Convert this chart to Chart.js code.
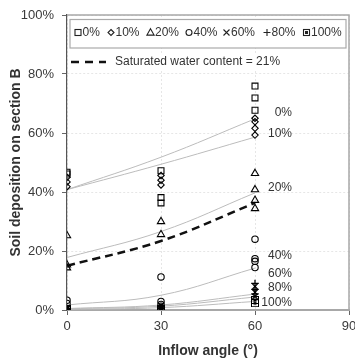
<!DOCTYPE html>
<html><head><meta charset="utf-8">
<script src="https://cdn.jsdelivr.net/npm/chart.js@4.4.0/dist/chart.umd.min.js"></script>
<style>html,body{margin:0;padding:0;background:#fff;} #wrap{width:355px;height:362px;}</style>
</head><body><div id="wrap"><canvas id="c" width="355" height="362"></canvas></div>
<script>
// Categories (inflow angle, degrees)
const angles = [0, 30, 60];
const xTicks = [0, 30, 60, 90];
const yTicks = [0, 20, 40, 60, 80, 100];
const seriesNames = ['0%', '10%', '20%', '40%', '60%', '80%', '100%'];

// Measured points per water content: values at angle 0, 30, 60 (%)
const wc0   = [[46.7, 46.1], [47.2, 38.1, 36.3], [75.9, 71.9, 67.7]];
const wc10  = [[45.0, 43.4, 41.8], [45.6, 44.0, 42.4], [65.0, 63.8, 61.6, 59.3]];
const wc20  = [[25.2, 15.3, 14.3], [30.0, 25.6], [46.3, 40.8, 37.2, 34.4]];
const wc40  = [[3.3, 2.2], [11.2, 2.9, 1.9], [24.0, 17.4, 16.5, 14.4]];
const wc60  = [[0.6, 0.3], [1.6, 0.8], [8.0, 6.0, 4.6]];
const wc80  = [[0.5, 0.2], [1.3, 0.6], [9.0, 7.0, 5.5]];
const wc100 = [[0.3, 0.1], [0.5, 0.3], [3.4, 2.3]];

// Trend curves: values at angle 0, 30, 60 (%)
const trend0   = [40.8, 51.8, 64.8];
const trend10  = [40.8, 49.4, 58.6];
const trend20  = [17.8, 26.6, 39.7];
const trend40  = [1.7, 5.0, 14.2];
const trend60  = [0.5, 1.7, 5.4];
const trend80  = [0.4, 1.3, 4.4];
const trend100 = [0.2, 0.8, 2.9];
const saturated = [15.0, 23.4, 36.3];

// Curve end labels (value positions, %)
const curveLabelY = [66.8, 59.7, 41.4, 18.4, 12.4, 7.4, 2.5];
const curveLabelX = 71.8;

const allMeas = [wc0, wc10, wc20, wc40, wc60, wc80, wc100];
const allTrend = [trend0, trend10, trend20, trend40, trend60, trend80, trend100];

// custom marker for 100%: square with dot
function makeDotSquare() {
  const c = document.createElement('canvas');
  c.width = 8; c.height = 8;
  const g = c.getContext('2d');
  g.strokeStyle = '#000'; g.lineWidth = 1;
  g.strokeRect(0.5, 0.5, 7, 7);
  g.fillStyle = '#000';
  g.fillRect(2.5, 2.5, 3, 3);
  return c;
}
const dotSquare = makeDotSquare();

const styles = [
  {pointStyle: 'rect', radius: 4.2, bw: 1.1},
  {pointStyle: 'rectRot', radius: 3.2, bw: 1.1},
  {pointStyle: 'triangle', radius: 4.2, bw: 1.1},
  {pointStyle: 'circle', radius: 3.2, bw: 1.1},
  {pointStyle: 'crossRot', radius: 3.6, bw: 1.3},
  {pointStyle: 'cross', radius: 3.8, bw: 1.3},
  {pointStyle: dotSquare, radius: 4, bw: 1}
];

function toPoints(meas) {
  const pts = [];
  meas.forEach((vals, i) => vals.forEach(v => pts.push({x: angles[i], y: v})));
  return pts;
}
function toCurve(vals) { return vals.map((v, i) => ({x: angles[i], y: v})); }

const datasets = [];
allTrend.forEach((t, i) => datasets.push({
  label: 'trend ' + seriesNames[i], data: toCurve(t), showLine: true,
  borderColor: '#bcbcbc', borderWidth: 1, pointRadius: 0, pointHoverRadius: 0,
  tension: 0.4, order: 3
}));
datasets.push({
  label: 'Saturated water content = 21%', data: toCurve(saturated), showLine: true,
  borderColor: '#111', borderWidth: 2.5, borderDash: [8, 5], pointRadius: 0,
  tension: 0.4, order: 2
});
allMeas.forEach((m, i) => datasets.push({
  label: seriesNames[i], data: toPoints(m), showLine: false,
  pointStyle: styles[i].pointStyle, pointRadius: styles[i].radius,
  pointBorderColor: '#000', pointBackgroundColor: 'rgba(255,255,255,0)',
  pointBorderWidth: styles[i].bw, order: 1
}));

function drawMarker(ctx, i, x, y) {
  ctx.save();
  ctx.strokeStyle = '#222'; ctx.fillStyle = '#222'; ctx.lineWidth = 1.1;
  ctx.beginPath();
  if (i === 0) { ctx.strokeRect(x - 3, y - 3, 6, 6); }
  else if (i === 1) { ctx.moveTo(x, y - 3); ctx.lineTo(x + 3, y); ctx.lineTo(x, y + 3); ctx.lineTo(x - 3, y); ctx.closePath(); ctx.stroke(); }
  else if (i === 2) { ctx.moveTo(x, y - 3.8); ctx.lineTo(x + 3.6, y + 2.6); ctx.lineTo(x - 3.6, y + 2.6); ctx.closePath(); ctx.stroke(); }
  else if (i === 3) { ctx.arc(x, y, 3, 0, Math.PI * 2); ctx.stroke(); }
  else if (i === 4) { ctx.moveTo(x - 3, y - 3); ctx.lineTo(x + 3, y + 3); ctx.moveTo(x + 3, y - 3); ctx.lineTo(x - 3, y + 3); ctx.stroke(); }
  else if (i === 5) { ctx.moveTo(x - 3.5, y); ctx.lineTo(x + 3.5, y); ctx.moveTo(x, y - 3.5); ctx.lineTo(x, y + 3.5); ctx.stroke(); }
  else { ctx.strokeRect(x - 3, y - 3, 6, 6); ctx.fillRect(x - 1.5, y - 1.5, 3, 3); }
  ctx.restore();
}

const legendMarkerX = [78, 111, 150.5, 189, 226.5, 267, 306.5];

const extras = {
  id: 'extras',
  beforeDatasetsDraw(chart) {
    const {ctx, chartArea: a} = chart;
    ctx.save();
    ctx.strokeStyle = '#a8a8a8'; ctx.lineWidth = 1.5;
    ctx.beginPath();
    ctx.moveTo(a.left, a.top); ctx.lineTo(a.right, a.top); ctx.lineTo(a.right, a.bottom);
    ctx.stroke();
    ctx.restore();
  },
  afterDraw(chart) {
    const {ctx} = chart;
    const xs = chart.scales.x, ys = chart.scales.y;
    ctx.save();
    // legend box
    ctx.fillStyle = '#fff';
    ctx.fillRect(70, 19.5, 276, 28.5);
    ctx.strokeStyle = '#aaa'; ctx.lineWidth = 1.2;
    ctx.strokeRect(70, 19.5, 276, 28.5);
    ctx.font = '12px "Liberation Sans", Arial, sans-serif';
    ctx.fillStyle = '#333'; ctx.textBaseline = 'middle'; ctx.textAlign = 'left';
    seriesNames.forEach((n, i) => {
      drawMarker(ctx, i, legendMarkerX[i], 32.5);
      ctx.fillText(n, legendMarkerX[i] + 4.5, 33);
    });
    // saturated legend
    ctx.fillStyle = '#fff';
    ctx.fillRect(68, 53, 220, 18);
    ctx.strokeStyle = '#111'; ctx.lineWidth = 2.5; ctx.setLineDash([8, 6]);
    ctx.beginPath(); ctx.moveTo(71, 62); ctx.lineTo(106, 62); ctx.stroke();
    ctx.setLineDash([]);
    ctx.fillStyle = '#333';
    ctx.fillText('Saturated water content = 21%', 115, 62);
    // curve labels
    ctx.textAlign = 'right';
    seriesNames.forEach((n, i) => {
      ctx.fillText(n, xs.getPixelForValue(curveLabelX), ys.getPixelForValue(curveLabelY[i]));
    });
    ctx.restore();
  }
};

const tickFont = {family: '"Liberation Sans", Arial, sans-serif', size: 13};
const titleFont = {family: '"Liberation Sans", Arial, sans-serif', size: 14, weight: 'bold'};

new Chart(document.getElementById('c'), {
  type: 'scatter',
  data: {datasets},
  options: {
    responsive: false, animation: false, devicePixelRatio: 1,
    layout: {padding: {top: 15, right: 6, left: 0, bottom: 0}},
    plugins: {legend: {display: false}, tooltip: {enabled: false}},
    scales: {
      x: {
        type: 'linear', min: 0, max: 90,
        afterBuildTicks: s => { s.ticks = xTicks.map(v => ({value: v})); },
        ticks: {font: tickFont, color: '#3a3a3a', padding: 4, maxRotation: 0},
        grid: {color: '#e6e6e6', tickColor: '#666', tickLength: 5, lineWidth: 1},
        border: {color: '#a8a8a8', width: 2, dash: [2, 2]},
        title: {display: true, text: 'Inflow angle (°)', font: titleFont, color: '#333', padding: {top: 0, bottom: 2}},
        afterFit: s => { s.height = 52; s.paddingLeft = 0; s.paddingRight = 0; }
      },
      y: {
        type: 'linear', min: 0, max: 100,
        afterBuildTicks: s => { s.ticks = yTicks.map(v => ({value: v})); },
        ticks: {font: tickFont, color: '#3a3a3a', padding: 8, callback: v => v + '%'},
        grid: {color: '#e6e6e6', tickColor: '#666', tickLength: 5, lineWidth: 1},
        border: {color: '#555', width: 1.2, dash: [2, 2]},
        title: {display: true, text: 'Soil deposition on section B', font: titleFont, color: '#333', padding: {top: 8, bottom: 0}},
        afterFit: s => { s.width = 67; s.paddingTop = 0; s.paddingBottom = 0; }
      }
    }
  },
  plugins: [extras]
});
</script></body></html>
